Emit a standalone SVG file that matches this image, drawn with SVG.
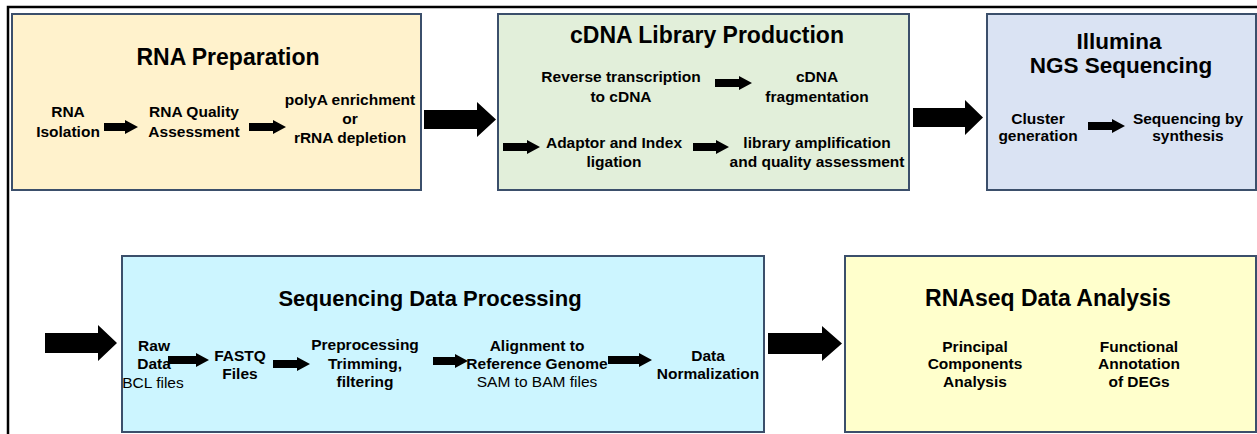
<svg xmlns="http://www.w3.org/2000/svg" width="1257" height="434" viewBox="0 0 1257 434">
  <style>
    .box { stroke: #3b4f6b; stroke-width: 2; }
    .title { font-family: "Liberation Sans", Arial, sans-serif; font-weight: bold; font-size: 23px; fill: #000; text-anchor: middle; }
    .lbl { font-family: "Liberation Sans", Arial, sans-serif; font-weight: bold; font-size: 15.5px; fill: #000; text-anchor: middle; }
    .reg { font-weight: normal; }
    .arrow { fill: #000; }
    .frame { stroke: #000; stroke-width: 2.5; fill: none; }
  </style>

  <rect width="1257" height="434" fill="#fff"/>

  <!-- outer frame: top and left edges only -->
  <path class="frame" d="M 8 434 V 7 H 1257"/>

  <g id="rna-preparation">
    <rect class="box" x="12" y="14" width="409" height="176" fill="#fff2cc"/>
    <text class="title" x="228" y="65">RNA Preparation</text>
    <text class="lbl" x="68" y="117">RNA</text>
    <text class="lbl" x="68" y="137">Isolation</text>
    <text class="lbl" x="194" y="117">RNA Quality</text>
    <text class="lbl" x="194" y="137">Assessment</text>
    <text class="lbl" x="350" y="105">polyA enrichment</text>
    <text class="lbl" x="350" y="124">or</text>
    <text class="lbl" x="350" y="143">rRNA depletion</text>
  </g>

  <g id="cdna-library">
    <rect class="box" x="498" y="14" width="411" height="176" fill="#e2efda"/>
    <text class="title" x="707" y="43">cDNA Library Production</text>
    <text class="lbl" x="621" y="82">Reverse transcription</text>
    <text class="lbl" x="621" y="102">to cDNA</text>
    <text class="lbl" x="817" y="82">cDNA</text>
    <text class="lbl" x="817" y="102">fragmentation</text>
    <text class="lbl" x="614" y="148">Adaptor and Index</text>
    <text class="lbl" x="614" y="167">ligation</text>
    <text class="lbl" x="817" y="148">library amplification</text>
    <text class="lbl" x="817" y="167">and quality assessment</text>
  </g>

  <g id="illumina-sequencing">
    <rect class="box" x="987" y="14" width="269" height="176" fill="#dae3f3"/>
    <text class="title" x="1119" y="48.5" style="font-size:22.5px">Illumina</text>
    <text class="title" x="1121" y="73" style="font-size:22.5px">NGS Sequencing</text>
    <text class="lbl" x="1038" y="124">Cluster</text>
    <text class="lbl" x="1038" y="141">generation</text>
    <text class="lbl" x="1188" y="124">Sequencing by</text>
    <text class="lbl" x="1188" y="141">synthesis</text>
  </g>

  <g id="data-processing">
    <rect class="box" x="122" y="256" width="642" height="176" fill="#ccf5ff"/>
    <text class="title" x="430" y="306" style="font-size:22px">Sequencing Data Processing</text>
    <text class="lbl" x="154" y="351">Raw</text>
    <text class="lbl" x="154" y="369">Data</text>
    <text class="lbl reg" x="153" y="388">BCL files</text>
    <text class="lbl" x="240" y="361">FASTQ</text>
    <text class="lbl" x="240" y="379">Files</text>
    <text class="lbl" x="365" y="350">Preprocessing</text>
    <text class="lbl" x="365" y="369">Trimming,</text>
    <text class="lbl" x="365" y="387">filtering</text>
    <text class="lbl" x="537" y="351">Alignment to</text>
    <text class="lbl" x="537" y="369">Reference Genome</text>
    <text class="lbl reg" x="537" y="387">SAM to BAM files</text>
    <text class="lbl" x="708" y="361">Data</text>
    <text class="lbl" x="708" y="379">Normalization</text>
  </g>

  <g id="rnaseq-analysis">
    <rect class="box" x="845" y="256" width="411" height="176" fill="#ffffcc"/>
    <text class="title" x="1048" y="306">RNAseq Data Analysis</text>
    <text class="lbl" x="975" y="352">Principal</text>
    <text class="lbl" x="975" y="369">Components</text>
    <text class="lbl" x="975" y="387">Analysis</text>
    <text class="lbl" x="1139" y="352">Functional</text>
    <text class="lbl" x="1139" y="369">Annotation</text>
    <text class="lbl" x="1139" y="387">of DEGs</text>
  </g>

  <g id="connectors">
    <!-- large arrows between stages -->
    <polygon class="arrow" points="424,110 477,110 477,102 496,119.5 477,137 477,129 424,129"/>
    <polygon class="arrow" points="913,108 965,108 965,100 983,117.5 965,135 965,127 913,127"/>
    <polygon class="arrow" points="45,333 98,333 98,325 117,343 98,361 98,353 45,353"/>
    <polygon class="arrow" points="768,333 822,333 822,326 842,343.5 822,361 822,354 768,354"/>

    <!-- small arrows inside stages -->
    <polygon class="arrow" points="104,123 125,123 125,120 138,127 125,134 125,131 104,131"/>
    <polygon class="arrow" points="249,123 273,123 273,120 286,127 273,134 273,131 249,131"/>
    <polygon class="arrow" points="715,79 739,79 739,76 752,83 739,90 739,87 715,87"/>
    <polygon class="arrow" points="503,143 527,143 527,140 540,147 527,154 527,151 503,151"/>
    <polygon class="arrow" points="693,143 716,143 716,140 729,147 716,154 716,151 693,151"/>
    <polygon class="arrow" points="1088,122 1112,122 1112,119 1125,126 1112,133 1112,130 1088,130"/>
    <polygon class="arrow" points="168,356 196,356 196,353 209,360 196,367 196,364 168,364"/>
    <polygon class="arrow" points="273,360 297,360 297,357 310,364 297,371 297,368 273,368"/>
    <polygon class="arrow" points="433,357 455,357 455,354 468,361 455,368 455,365 433,365"/>
    <polygon class="arrow" points="608,356 639,356 639,353 652,360 639,367 639,364 608,364"/>
  </g>
</svg>
